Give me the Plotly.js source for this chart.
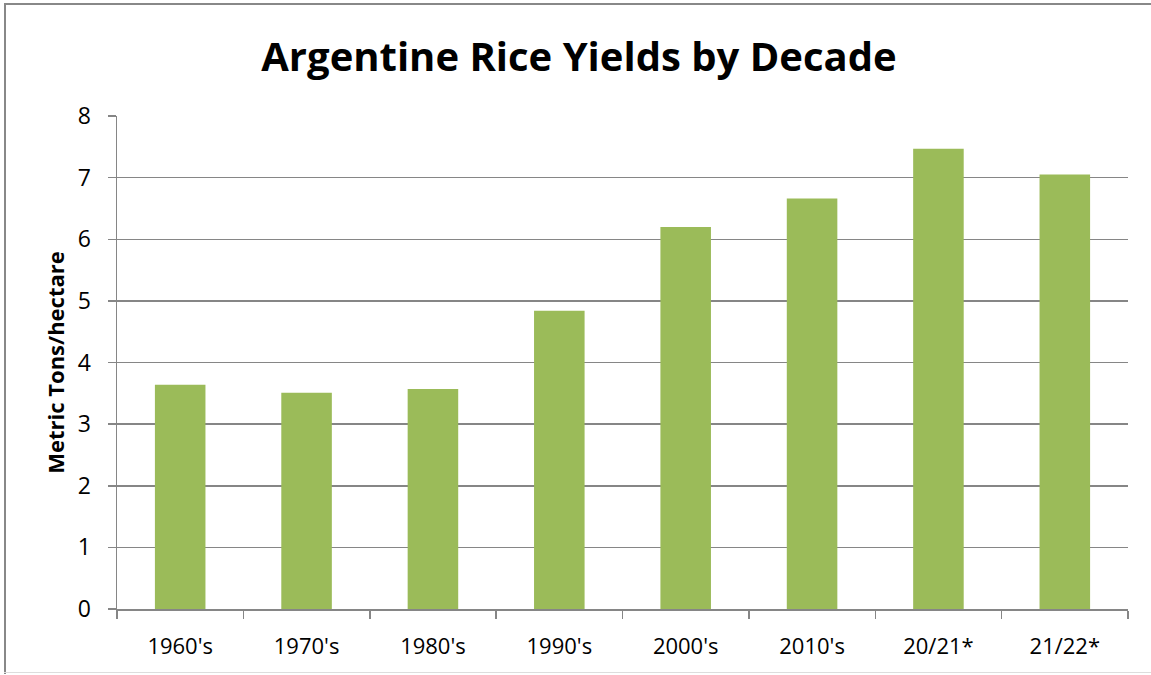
<!DOCTYPE html>
<html>
<head>
<meta charset="utf-8">
<script src="https://cdn.plot.ly/plotly-3.0.1.min.js"></script>
<style>
html,body{margin:0;padding:0;background:#fff;}
#wrap{position:relative;width:1151px;height:675px;overflow:hidden;}
#frame{position:absolute;left:4px;top:3px;width:1160px;height:671px;border-left:2px solid #888;border-top:2px solid #888;box-sizing:border-box;pointer-events:none;}
#bottom{position:absolute;left:4px;top:672px;width:1147px;height:1px;background:#ddd;pointer-events:none;}
#chart{width:1151px;height:675px;}
</style>
</head>
<body>
<div id="wrap">
<div id="chart"></div>
<div id="frame"></div>
<div id="bottom"></div>
</div>
<script>
const decades = ["1960's", "1970's", "1980's", "1990's", "2000's", "2010's", "20/21*", "21/22*"];
const yields = [3.64, 3.51, 3.57, 4.84, 6.20, 6.66, 7.47, 7.05];
const yTicks = [0, 1, 2, 3, 4, 5, 6, 7, 8];

const font = "'Open Sans', Lato, 'DejaVu Sans', sans-serif";
const data = [{
  type: 'bar',
  x: decades,
  y: yields,
  marker: {color: '#9bbb59'},
  hoverinfo: 'x+y'
}];
const layout = {
  width: 1151, height: 675,
  margin: {l: 117, r: 23, t: 116, b: 66},
  paper_bgcolor: 'rgba(0,0,0,0)', plot_bgcolor: '#fff',
  bargap: 0.6,
  showlegend: false,
  title: {text: '<b>Argentine Rice Yields by Decade</b>', x: 0.503, xanchor: 'center', y: 0.915, yanchor: 'middle',
          font: {family: font, size: 40, color: '#000'}},
  xaxis: {
    type: 'category',
    showline: true, linecolor: '#868686', linewidth: 1.5,
    ticks: 'outside', tickson: 'boundaries', ticklen: 8, tickcolor: '#868686', tickwidth: 1.5,
    ticklabelstandoff: 17,
    tickfont: {family: font, size: 22, color: '#000'},
    showgrid: false, zeroline: false
  },
  yaxis: {
    range: [0, 8], tickvals: yTicks, ticktext: yTicks.map(String),
    showline: true, linecolor: '#868686', linewidth: 1.5,
    ticks: 'outside', ticklen: 8, tickcolor: '#868686', tickwidth: 1.5,
    ticklabelstandoff: 12,
    showgrid: true, gridcolor: '#868686', gridwidth: 1.5,
    zeroline: false,
    tickfont: {family: font, size: 23, color: '#000'},
    title: {text: '<b>Metric Tons/hectare</b>', font: {family: font, size: 22, color: '#000'}, standoff: 7}
  }
};
Plotly.newPlot('chart', data, layout, {displayModeBar: false, staticPlot: true});
</script>
</body>
</html>
